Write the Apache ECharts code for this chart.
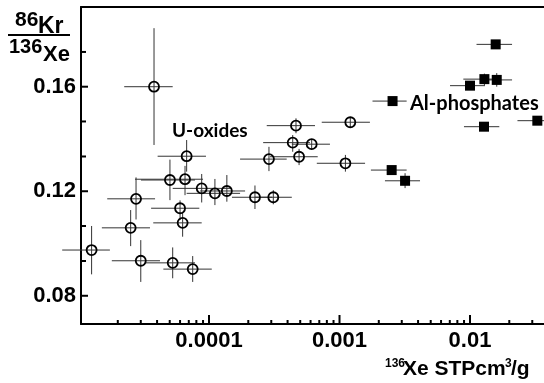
<!DOCTYPE html>
<html>
<head>
<meta charset="utf-8">
<script src="https://cdn.jsdelivr.net/npm/echarts@6/dist/echarts.min.js"></script>
<style>
  html, body { margin: 0; padding: 0; background: #fff; }
  #chart { width: 544px; height: 383px; }
</style>
</head>
<body>
<div id="chart"></div>
<script>
// each row: [x, y, xLow, xHigh, yLow, yHigh]
const uOxides = [
  [3.79e-5, 0.1600, 2.24e-5, 5.27e-5, 0.1377, 0.1824],
  [6.74e-5, 0.1334, 4.04e-5, 9.48e-5, 0.1275, 0.1396],
  [5.02e-5, 0.1243, 3.01e-5, 7.81e-5, 0.1166, 0.1321],
  [6.55e-5, 0.1246, 2.71e-5, 9.00e-5, 0.1185, 0.1297],
  [8.79e-5, 0.1211, 5.27e-5, 1.50e-4, 0.1157, 0.1266],
  [1.11e-4, 0.1192, 6.74e-5, 1.73e-4, 0.1147, 0.1247],
  [1.37e-4, 0.1201, 8.53e-5, 1.89e-4, 0.1160, 0.1262],
  [2.76e-5, 0.1171, 1.66e-5, 3.86e-5, 0.1092, 0.1253],
  [6.00e-5, 0.1135, 3.60e-5, 8.43e-5, 0.1090, 0.1165],
  [6.28e-5, 0.1079, 3.74e-5, 8.79e-5, 0.1026, 0.1120],
  [2.51e-5, 0.1060, 1.51e-5, 3.53e-5, 0.0990, 0.1128],
  [1.26e-5, 0.0975, 7.5e-6, 1.74e-5, 0.0882, 0.1067],
  [3.00e-5, 0.0934, 1.80e-5, 4.21e-5, 0.0853, 0.1013],
  [5.27e-5, 0.0926, 3.23e-5, 7.81e-5, 0.0867, 0.0985],
  [7.50e-5, 0.0902, 4.47e-5, 1.05e-4, 0.0853, 0.0952],
  [4.64e-4, 0.1451, 2.77e-4, 6.49e-4, 0.1422, 0.1479],
  [1.21e-3, 0.1464, 7.31e-4, 1.71e-3, 0.1445, 0.1483],
  [4.38e-4, 0.1386, 2.60e-4, 5.94e-4, 0.1351, 0.1415],
  [6.12e-4, 0.1380, 4.31e-4, 8.45e-4, 0.1360, 0.1400],
  [2.88e-4, 0.1323, 1.73e-4, 3.94e-4, 0.1277, 0.1370],
  [4.90e-4, 0.1332, 2.93e-4, 6.81e-4, 0.1300, 0.1362],
  [1.11e-3, 0.1307, 6.70e-4, 1.57e-3, 0.1275, 0.1339],
  [2.25e-4, 0.1177, 1.50e-4, 3.04e-4, 0.1132, 0.1222],
  [3.11e-4, 0.1177, 2.25e-4, 4.31e-4, 0.1150, 0.1204]
];
const alPhosphates = [
  [0.01573, 0.1762, 0.01122, 0.0210, 0.1750, 0.1774],
  [0.01289, 0.1629, 0.00889, 0.0164, 0.1605, 0.1650],
  [0.01603, 0.1626, 0.01303, 0.0210, 0.1600, 0.1652],
  [0.01000, 0.1604, 0.00703, 0.01303, 0.1590, 0.1618],
  [0.00255, 0.1545, 0.00179, 0.00327, 0.1535, 0.1555],
  [0.01280, 0.1447, 0.00899, 0.01677, 0.1437, 0.1457],
  [0.03280, 0.1470, 0.02310, 0.0450, 0.1460, 0.1480],
  [0.00251, 0.1281, 0.00174, 0.00327, 0.1270, 0.1292],
  [0.00318, 0.1240, 0.00223, 0.00414, 0.1212, 0.1269]
];

const xMin = 1.045e-5, xMax = 0.0369;
const yMin = 0.0692, yMax = 0.1905;
const xLabelTicks = [0.0001, 0.001, 0.01];
const xMinorTicks = [
  2e-5, 3e-5, 4e-5, 5e-5, 6e-5, 7e-5, 8e-5, 9e-5,
  2e-4, 3e-4, 4e-4, 5e-4, 6e-4, 7e-4, 8e-4, 9e-4,
  2e-3, 3e-3, 4e-3, 5e-3, 6e-3, 7e-3, 8e-3, 9e-3,
  2e-2, 3e-2
];
const yLabelTicks = [0.08, 0.12, 0.16];
const yMinorTicks = [0.0933, 0.1067, 0.1333, 0.1467, 0.1733];

const font = 'Liberation Sans, Arial, sans-serif';
const black = '#000';
const hidden = { show: false };

function errorBars(params, api) {
  const x = api.value(0), y = api.value(1);
  const l = api.coord([api.value(2), y]);
  const r = api.coord([api.value(3), y]);
  const b = api.coord([x, api.value(4)]);
  const t = api.coord([x, api.value(5)]);
  const style = { stroke: '#333', lineWidth: 1 };
  return {
    type: 'group',
    children: [
      { type: 'line', shape: { x1: l[0], y1: l[1], x2: r[0], y2: r[1] }, style },
      { type: 'line', shape: { x1: b[0], y1: b[1], x2: t[0], y2: t[1] }, style }
    ]
  };
}

// inward ticks, placed through the axis scales
function xTick(params, api) {
  const p = api.coord([api.value(0), yMin]);
  const len = api.value(2) ? 9 : 4;
  return { type: 'line', shape: { x1: p[0], y1: p[1], x2: p[0], y2: p[1] - len },
    style: { stroke: black, lineWidth: 2 } };
}
function yTick(params, api) {
  const p = api.coord([xMin, api.value(1)]);
  const len = api.value(2) ? 7 : 5;
  return { type: 'line', shape: { x1: p[0], y1: p[1], x2: p[0] + len, y2: p[1] },
    style: { stroke: black, lineWidth: 2 } };
}

function txt(text, x, y, size, family) {
  return {
    type: 'text', x, y, z: 100,
    style: {
      text, fill: black, fontSize: size, fontWeight: 'bold', fontFamily: family || font,
      align: 'left', textAlign: 'left', verticalAlign: 'middle', textVerticalAlign: 'middle'
    }
  };
}

const xTickData = xLabelTicks.map(v => [v, yMin, 1]).concat(xMinorTicks.map(v => [v, yMin, 0]));
const yTickData = yLabelTicks.map(v => [xMin, v, 1]).concat(yMinorTicks.map(v => [xMin, v, 0]));

const chart = echarts.init(document.getElementById('chart'), null, { renderer: 'canvas' });
chart.setOption({
  animation: false,
  backgroundColor: '#fff',
  grid: { left: 81, right: 0, top: 7, bottom: 59, outerBoundsMode: 'none' },
  xAxis: [
    {
      type: 'log', logBase: 10, min: xMin, max: xMax, position: 'bottom',
      axisLine: { show: true, lineStyle: { color: black, width: 2 } },
      axisTick: hidden,
      axisLabel: {
        customValues: xLabelTicks, margin: 6, color: black, fontSize: 22, fontWeight: 'bold', fontFamily: font,
        formatter: v => String(Number(Number(v).toPrecision(1)))
      },
      splitLine: hidden
    },
    {
      type: 'log', logBase: 10, min: xMin, max: xMax, position: 'top',
      axisLine: { show: true, lineStyle: { color: black, width: 2 } },
      axisTick: hidden, axisLabel: hidden, splitLine: hidden
    }
  ],
  yAxis: {
    type: 'value', min: yMin, max: yMax, position: 'left',
    axisLine: { show: true, lineStyle: { color: black, width: 2 } },
    axisTick: hidden,
    axisLabel: {
      customValues: yLabelTicks, margin: 5, color: black, fontSize: 22, fontWeight: 'bold', fontFamily: font,
      formatter: v => Number(v).toFixed(2)
    },
    splitLine: hidden
  },
  series: [
    {
      type: 'custom', name: 'x ticks', renderItem: xTick, data: xTickData,
      encode: { x: 0, y: 1 }, z: 5, silent: true
    },
    {
      type: 'custom', name: 'y ticks', renderItem: yTick, data: yTickData,
      encode: { x: 0, y: 1 }, z: 5, silent: true
    },
    {
      type: 'custom', name: 'U-oxides errors', renderItem: errorBars, data: uOxides,
      encode: { x: 0, y: 1 }, z: 1, silent: true
    },
    {
      type: 'custom', name: 'Al-phosphates errors', renderItem: errorBars, data: alPhosphates,
      encode: { x: 0, y: 1 }, z: 1, silent: true
    },
    {
      type: 'scatter', name: 'U-oxides', data: uOxides.map(r => [r[0], r[1]]),
      symbol: 'circle', symbolSize: 10, z: 3,
      itemStyle: { color: 'rgba(0,0,0,0)', borderColor: black, borderWidth: 1.8, opacity: 1 }
    },
    {
      type: 'scatter', name: 'Al-phosphates', data: alPhosphates.map(r => [r[0], r[1]]),
      symbol: 'rect', symbolSize: 10, z: 3,
      itemStyle: { color: black, opacity: 1 }
    }
  ],
  graphic: [
    txt('86', 15, 20, 21),
    txt('Kr', 38, 26.5, 23),
    { type: 'line', shape: { x1: 8, y1: 35, x2: 70, y2: 35 }, style: { stroke: black, lineWidth: 2 } },
    txt('136', 9, 47.5, 20),
    txt('Xe', 43, 54.5, 22),
    txt('136', 385, 363.5, 12),
    txt('Xe STPcm', 403, 369, 21),
    txt('3', 505, 363.5, 12),
    txt('/g', 511, 369, 21),
    txt('U-oxides', 172, 131, 19, 'Lato, sans-serif'),
    txt('Al-phosphates', 410, 104, 20, 'Lato, sans-serif')
  ]
});
</script>
</body>
</html>
